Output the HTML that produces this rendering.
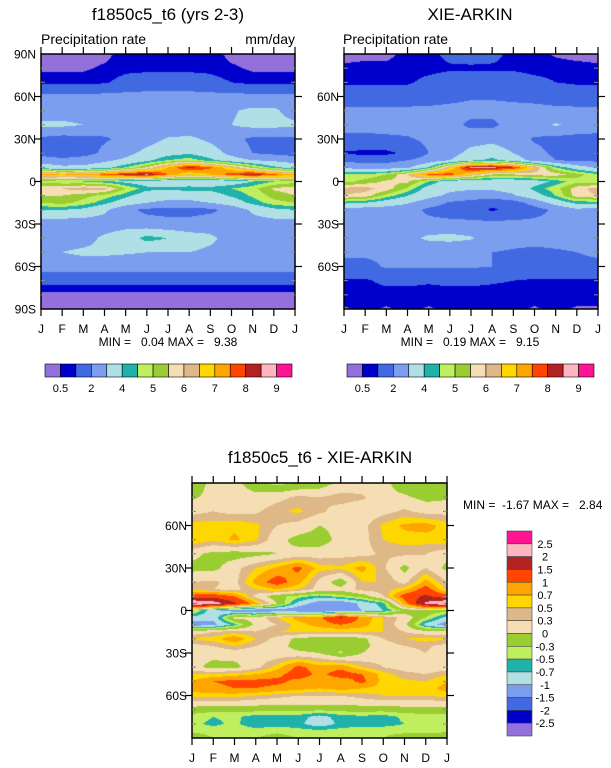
<!DOCTYPE html>
<html><head><meta charset="utf-8">
<style>
body{margin:0;background:#fff;width:611px;height:768px;overflow:hidden;position:relative;font-family:"Liberation Sans",sans-serif}
canvas{position:absolute}
svg{position:absolute;left:0;top:0}
svg text{white-space:pre}
</style></head>
<body>
<canvas id="c1"></canvas>
<canvas id="c2"></canvas>
<canvas id="c3"></canvas>
<svg id="ov" width="611" height="768"></svg>
<script>
const months=["J","F","M","A","M","J","J","A","S","O","N","D","J"];
const precipColors=["#9370DB","#0000CD","#4169E1","#7B9EEE","#B0E0E6","#20B2AA","#BFEF5F","#9ACD32","#F5DEB3","#DEB887","#FFD700","#FFA500","#FF4500","#B22222","#FFB6C1","#FF1493"];
const precipLevels=[0.5,1,2,3,4,4.5,5,5.5,6,6.5,7,7.5,8,8.5,9];
const precipLabels=["0.5","2","4","5","6","7","8","9"];
const diffLevels=[-2.5,-2,-1.5,-1,-0.7,-0.5,-0.3,0,0.3,0.5,0.7,1,1.5,2,2.5];
const diffLabels=["-2.5","-2","-1.5","-1","-0.7","-0.5","-0.3","0","0.3","0.5","0.7","1","1.5","2","2.5"];
const latsA=[90,80,70,60,50,40,30,20,15,10,5,0,-5,-10,-15,-20,-30,-40,-50,-60,-70,-80,-90];
const modelVals=[
[0.3,0.3,0.3,0.3,0.8,0.8,0.8,0.8,0.8,0.3,0.3,0.3,0.3],
[0.4,0.4,0.4,0.6,0.8,0.8,0.8,0.8,0.8,0.6,0.4,0.4,0.4],
[0.8,0.8,0.8,0.9,1.3,1.5,1.5,1.5,1.3,1.0,0.8,0.8,0.8],
[2.3,2.3,2.3,2.3,2.3,2.3,2.3,2.3,2.3,2.3,2.3,2.3,2.3],
[2.5,2.5,2.5,2.5,2.5,2.5,2.5,2.5,2.5,2.9,3.2,3.2,2.5],
[3.2,3.2,3.0,2.5,2.3,2.2,2.2,2.3,2.5,3.0,3.3,3.3,3.2],
[1.8,1.6,1.7,1.9,2.2,2.6,3.1,3.2,2.8,2.3,1.8,1.8,1.8],
[1.6,1.2,1.6,2.2,2.7,3.3,3.7,3.9,3.5,2.7,2.0,1.8,1.6],
[2.6,2.4,2.5,2.8,3.2,3.8,4.5,4.8,4.2,3.5,3.0,2.8,2.6],
[3.5,3.2,3.2,3.6,4.5,5.5,7.0,8.2,7.6,6.5,5.2,4.2,3.5],
[7.2,7.0,7.2,7.6,8.2,8.6,7.5,6.5,7.0,7.8,8.4,7.6,7.2],
[4.8,4.6,4.5,4.2,3.8,3.5,3.3,3.3,3.3,3.5,4.0,4.5,4.8],
[5.8,6.0,6.3,6.2,5.0,4.2,4.2,4.3,4.2,4.5,4.8,5.6,5.8],
[5.5,5.5,5.2,4.8,4.2,3.5,3.3,3.3,3.6,4.1,4.6,5.2,5.5],
[5.0,5.2,4.8,4.2,3.5,3.0,2.8,2.8,3.0,3.5,4.2,4.8,5.0],
[4.0,4.0,3.8,3.2,2.2,1.8,1.7,1.7,1.8,2.3,3.2,3.8,4.0],
[2.4,2.4,2.4,2.5,2.7,2.4,2.3,2.3,2.5,2.5,2.5,2.5,2.4],
[2.5,2.5,2.6,3.2,3.5,4.3,4.0,3.5,3.2,2.6,2.5,2.5,2.5],
[2.8,3.0,3.2,3.2,3.1,3.0,3.0,3.0,2.8,2.7,2.7,2.7,2.8],
[2.4,2.4,2.4,2.4,2.4,2.4,2.4,2.4,2.4,2.4,2.4,2.4,2.4],
[1.3,1.3,1.3,1.3,1.3,1.3,1.3,1.3,1.3,1.3,1.3,1.3,1.3],
[0.3,0.3,0.3,0.3,0.3,0.3,0.3,0.3,0.3,0.3,0.3,0.3,0.3],
[0.3,0.3,0.3,0.3,0.3,0.3,0.3,0.3,0.3,0.3,0.3,0.3,0.3]];
const obsVals=[
[0.3,0.3,0.3,0.7,0.8,1.2,1.3,1.2,0.8,0.8,0.4,0.3,0.3],
[0.6,0.7,0.7,0.8,0.8,0.9,0.9,0.9,0.9,0.8,0.8,0.7,0.6],
[0.9,0.9,0.9,0.9,1.2,1.4,1.5,1.5,1.4,1.2,1.0,0.9,0.9],
[1.5,1.5,1.5,1.5,1.6,1.7,1.9,1.9,1.8,1.7,1.6,1.5,1.5],
[2.2,2.2,2.2,2.2,2.2,2.3,2.3,2.3,2.3,2.3,2.2,2.2,2.2],
[2.4,2.4,2.4,2.4,2.4,2.3,1.8,1.8,2.4,2.6,3.1,2.8,2.4],
[1.7,1.7,1.8,1.9,2.2,2.4,2.6,2.7,2.4,1.9,1.7,1.6,1.7],
[0.9,0.8,0.8,1.2,2.0,2.6,3.3,3.6,3.0,2.3,1.8,1.5,0.9],
[1.8,1.6,1.7,2.0,2.4,3.0,3.8,4.2,3.6,2.6,2.0,1.8,1.8],
[2.8,2.5,2.5,2.8,4.0,6.5,8.6,8.7,8.0,6.5,4.5,3.5,2.8],
[4.6,4.6,5.0,6.0,7.6,7.8,6.5,5.5,5.5,5.8,5.8,5.2,4.6],
[4.8,5.2,5.6,5.6,4.5,3.5,3.4,3.4,3.4,3.6,4.2,4.8,4.8],
[6.2,6.2,5.8,4.9,3.6,3.2,3.1,3.1,3.3,4.2,4.8,5.8,6.2],
[6.0,5.8,4.8,4.0,3.3,2.8,2.6,2.6,2.9,3.6,4.5,5.8,6.0],
[4.2,4.0,3.5,3.1,2.5,1.9,1.6,1.2,1.6,2.4,3.4,4.2,4.2],
[2.5,2.5,2.5,2.4,1.8,1.5,1.3,0.9,1.2,1.6,2.2,2.8,2.5],
[2.3,2.3,2.3,2.3,2.3,2.3,2.3,2.3,2.3,2.3,2.3,2.3,2.3],
[2.3,2.3,2.4,2.7,3.2,3.3,3.1,2.5,2.3,2.3,2.3,2.3,2.3],
[2.2,2.2,2.2,2.1,2.1,2.1,2.1,2.0,1.9,1.8,1.9,2.0,2.2],
[1.7,1.7,2.1,2.1,2.1,2.1,2.1,2.0,1.8,1.7,1.7,1.7,1.7],
[0.9,0.9,1.2,1.2,1.1,1.2,1.2,1.1,1.0,0.9,0.9,0.9,0.9],
[0.7,0.7,0.7,0.7,0.7,0.7,0.7,0.7,0.7,0.7,0.7,0.7,0.7],
[0.45,0.6,0.45,0.6,0.45,0.6,0.6,0.5,0.6,0.45,0.6,0.45,0.45]];
const latsD=[90,80,70,60,50,40,30,20,15,10,5,0,-5,-10,-15,-20,-25,-30,-40,-45,-50,-55,-60,-65,-70,-75,-80,-85,-90];
const diffVals=[
[-0.2,0.1,0.1,-0.2,-0.4,-0.3,-0.2,0.1,0.1,0.1,-0.2,-0.2,-0.2],
[-0.05,0.1,0.15,0.1,0.2,0.35,0.3,0.4,0.35,0.1,0.05,-0.1,-0.05],
[0.2,0.3,0.2,0.25,0.45,0.55,0.35,0.2,0.1,0.2,0.35,0.2,0.2],
[0.6,0.6,0.65,0.55,0.3,0.2,0.0,0.1,0.2,0.55,0.75,0.8,0.6],
[0.7,0.55,0.75,0.55,0.1,-0.1,-0.15,0.1,0.2,0.5,0.6,0.6,0.7],
[0.1,-0.1,-0.15,-0.1,0.0,0.1,0.15,0.2,0.2,0.35,0.35,0.3,0.1],
[-0.1,-0.1,0.2,0.5,0.75,1.1,0.6,0.55,0.8,0.35,-0.1,0.3,-0.1],
[0.3,0.35,0.2,0.8,1.2,0.8,0.2,-0.2,0.5,0.5,0.2,0.8,0.3],
[0.4,0.3,0.2,0.5,0.7,0.5,0.2,0.1,0.4,0.4,0.6,1.2,0.4],
[1.2,1.3,1.0,0.2,-0.2,-0.4,-0.6,-0.4,-0.2,0.3,1.2,1.6,1.2],
[2.6,2.3,1.6,0.8,0.0,-0.8,-1.2,-1.3,-0.9,-0.6,0.8,2.1,2.6],
[-0.2,-0.9,-1.2,-1.3,-1.2,-1.3,-1.4,-1.2,-1.0,-0.7,-0.2,-0.1,-0.2],
[-0.8,-0.9,0.1,0.1,0.5,0.8,0.9,1.6,0.9,0.5,0.2,-0.3,-0.8],
[-1.2,-1.1,-0.6,0.1,0.3,0.6,0.8,1.0,0.8,0.5,0.1,-0.8,-1.2],
[0.1,0.3,0.4,0.3,0.5,0.55,0.5,0.5,0.55,0.5,0.3,0.1,0.1],
[0.55,0.6,0.9,0.5,0.2,-0.1,-0.15,-0.2,-0.1,0.3,0.5,0.6,0.55],
[0.2,0.3,0.5,0.3,0.1,-0.1,-0.15,-0.2,-0.1,0.15,0.3,0.35,0.2],
[0.1,0.1,0.15,0.1,0.1,0.05,0.0,-0.35,0.0,0.15,0.2,0.3,0.1],
[0.1,-0.1,-0.1,0.2,0.6,1.1,0.8,0.9,0.5,0.3,0.15,0.1,0.1],
[0.5,0.5,0.6,0.7,0.9,1.2,0.9,1.2,1.0,0.6,0.4,0.3,0.5],
[0.7,1.0,1.1,1.1,1.1,0.9,0.8,0.8,1.1,0.6,0.55,0.5,0.7],
[0.8,0.9,1.0,1.0,0.9,0.8,0.7,0.8,0.7,0.6,0.6,0.6,0.8],
[0.6,0.6,0.6,0.5,0.4,0.3,0.3,0.3,0.4,0.5,0.5,0.5,0.6],
[0.2,0.2,0.2,0.15,0.1,0.1,0.1,0.1,0.15,0.2,0.2,0.2,0.2],
[-0.15,-0.2,-0.2,-0.2,-0.25,-0.2,-0.25,-0.2,-0.2,-0.2,-0.15,-0.15,-0.15],
[-0.4,-0.5,-0.45,-0.6,-0.6,-0.6,-0.8,-0.6,-0.55,-0.6,-0.45,-0.4,-0.4],
[-0.45,-0.55,-0.45,-0.65,-0.6,-0.65,-0.85,-0.65,-0.6,-0.6,-0.5,-0.45,-0.45],
[-0.35,-0.4,-0.35,-0.4,-0.35,-0.4,-0.45,-0.4,-0.35,-0.35,-0.35,-0.35,-0.35],
[-0.1,-0.3,-0.3,-0.3,-0.2,-0.3,-0.3,-0.3,-0.3,-0.3,-0.2,-0.2,-0.1]];

const NS="http://www.w3.org/2000/svg";
const ov=document.getElementById('ov');
function mk(tag,attrs,name,txt){const e=document.createElementNS(NS,tag);for(const k in attrs)e.setAttribute(k,attrs[k]);


if(txt!==undefined)e.textContent=txt;ov.appendChild(e);return e;}
function hex(c){return [parseInt(c.substr(1,2),16),parseInt(c.substr(3,2),16),parseInt(c.substr(5,2),16)];}
function levelIndex(v,levels){let i=0;while(i<levels.length&&v>=levels[i])i++;return i;}
function interp(lats,vals,lat,m){
  let r=0;while(r<lats.length-2&&lat<lats[r+1])r++;
  const t=(lats[r]-lat)/(lats[r]-lats[r+1]);
  const c=Math.min(11,Math.floor(m)),u=m-c;
  const a=vals[r][c]*(1-u)+vals[r][c+1]*u, b=vals[r+1][c]*(1-u)+vals[r+1][c+1]*u;
  return a*(1-t)+b*t;
}
function panel(id,x0,y0,w,h,lats,vals,levels,colors){
  const cv=document.getElementById(id);cv.width=w;cv.height=h;cv.style.left=x0+'px';cv.style.top=y0+'px';
  const ctx=cv.getContext('2d');const img=ctx.createImageData(w,h);const rgb=colors.map(hex);
  const latOf=y=>90-180*(y+0.5)/h, monOf=x=>12*(x+0.5)/w;
  for(let y=0;y<h;y++)for(let x=0;x<w;x++){
    const v=interp(lats,vals,latOf(y),monOf(x));const c=rgb[levelIndex(v,levels)];const k=(y*w+x)*4;
    img.data[k]=c[0];img.data[k+1]=c[1];img.data[k+2]=c[2];img.data[k+3]=255;}
  ctx.putImageData(img,0,0);
}
function axes(x0,y0,w,h,latLabels,pre){
  const yS=lat=>y0+(90-lat)/180*h, xS=m=>x0+m*w/12;
  mk('rect',{x:x0,y:y0,width:w,height:h,fill:'none',stroke:'#000','stroke-width':1.5},pre+'-frame');
  for(let m=0;m<=12;m++){
    const x=xS(m);
    mk('line',{x1:x,x2:x,y1:y0,y2:y0-7,stroke:'#000','stroke-width':1.2},pre+'-top-tick');
    mk('line',{x1:x,x2:x,y1:y0+h,y2:y0+h+7,stroke:'#000','stroke-width':1.2},pre+'-bottom-tick');
    mk('text',{x:x,y:y0+h+24,'font-size':12,'text-anchor':'middle'},pre+'-month-label',months[m]);
  }
  for(let lat=-80;lat<=80;lat+=10){
    const y=yS(lat);
    if(lat%30===0){
      mk('line',{x1:x0,x2:x0-7,y1:y,y2:y,stroke:'#000','stroke-width':1.2},pre+'-left-major-tick');
      mk('line',{x1:x0+w,x2:x0+w+7,y1:y,y2:y,stroke:'#000','stroke-width':1.2},pre+'-right-major-tick');
    }else{
      mk('line',{x1:x0,x2:x0+4,y1:y,y2:y,stroke:'#888','stroke-width':1},pre+'-left-minor-tick');
      mk('line',{x1:x0+w,x2:x0+w-4,y1:y,y2:y,stroke:'#888','stroke-width':1},pre+'-right-minor-tick');
    }
  }
  latLabels.forEach(l=>{const lat=l==="0"?0:(l.endsWith('N')?+l.slice(0,-1):-l.slice(0,-1));
    mk('text',{x:x0-5,y:yS(lat)+4.5,'font-size':12,'text-anchor':'end'},pre+'-lat-label',l);});
}
function hbar(x0,y0,w,h,pre){
  const bw=w/16;
  precipColors.forEach((c,i)=>mk('rect',{x:x0+i*bw,y:y0,width:bw,height:h,fill:c,stroke:'#000','stroke-width':0.6},pre+'-colorbar-box'));
  precipLabels.forEach((l,i)=>mk('text',{x:x0+(2*i+1)*bw,y:y0+h+15,'font-size':11,'text-anchor':'middle'},pre+'-colorbar-label',l));
}
panel('c1',41,54,254,255,latsA,modelVals,precipLevels,precipColors);
panel('c2',344,54,254,255,latsA,obsVals,precipLevels,precipColors);
panel('c3',192,483,255,255,latsD,diffVals,diffLevels,precipColors);
axes(41,54,254,255,["90N","60N","30N","0","30S","60S","90S"],'model');
axes(344,54,254,255,["60N","30N","0","30S","60S"],'obs');
axes(192,483,255,255,["60N","30N","0","30S","60S"],'diff');
mk('text',{x:168,y:20,'font-size':17,'text-anchor':'middle'},'model-title','f1850c5_t6 (yrs 2-3)');
mk('text',{x:41,y:44,'font-size':14},'model-left-subtitle','Precipitation rate');
mk('text',{x:295,y:44,'font-size':14,'text-anchor':'end'},'model-units','mm/day');
mk('text',{x:168,y:346,'font-size':12,'text-anchor':'middle'},'model-min-max','MIN =   0.04 MAX =   9.38');
mk('text',{x:470,y:20,'font-size':17,'text-anchor':'middle'},'obs-title','XIE-ARKIN');
mk('text',{x:343,y:44,'font-size':14},'obs-left-subtitle','Precipitation rate');
mk('text',{x:470,y:346,'font-size':12,'text-anchor':'middle'},'obs-min-max','MIN =   0.19 MAX =   9.15');
hbar(45,364,247,13,'model');
hbar(347,364,247,13,'obs');
mk('text',{x:320,y:463,'font-size':17,'text-anchor':'middle'},'diff-title','f1850c5_t6 - XIE-ARKIN');
mk('text',{x:463,y:509,'font-size':12},'diff-min-max','MIN =  -1.67 MAX =   2.84');
const vb=205/16;
precipColors.slice().reverse().forEach((c,i)=>mk('rect',{x:507,y:531+i*vb,width:25,height:vb,fill:c,stroke:'#444','stroke-width':0.6},'diff-colorbar-box'));
diffLabels.slice().reverse().forEach((l,i)=>mk('text',{x:545,y:531+(i+1)*vb+4,'font-size':11,'text-anchor':'middle'},'diff-colorbar-label',l));
</script>
</body></html>
